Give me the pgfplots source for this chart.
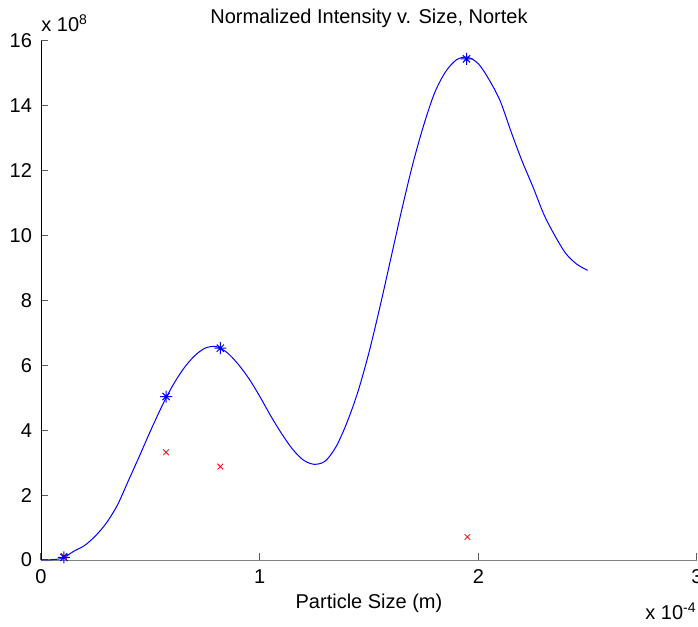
\documentclass[border=0pt]{standalone}
\usepackage{fontspec}
\setmainfont{Liberation Sans}
\usepackage{pgfplots}
\pgfplotsset{compat=1.18}
\pgfdeclareplotmark{matstar}{%
  \pgfpathmoveto{\pgfqpoint{-\pgfplotmarksize}{0pt}}\pgfpathlineto{\pgfqpoint{\pgfplotmarksize}{0pt}}%
  \pgfpathmoveto{\pgfqpoint{0pt}{-\pgfplotmarksize}}\pgfpathlineto{\pgfqpoint{0pt}{\pgfplotmarksize}}%
  \pgfpathmoveto{\pgfqpoint{-0.6\pgfplotmarksize}{-0.6\pgfplotmarksize}}\pgfpathlineto{\pgfqpoint{0.6\pgfplotmarksize}{0.6\pgfplotmarksize}}%
  \pgfpathmoveto{\pgfqpoint{-0.6\pgfplotmarksize}{0.6\pgfplotmarksize}}\pgfpathlineto{\pgfqpoint{0.6\pgfplotmarksize}{-0.6\pgfplotmarksize}}%
  \pgfusepathqstroke}
\begin{document}
\begin{tikzpicture}
\useasboundingbox (-20.5pt,-33.5pt) rectangle (328.5pt,280pt);
\begin{axis}[
  scale only axis, width=328pt, height=259.5pt,
  at={(0,0)}, anchor=south west,
  xmin=0, xmax=3, ymin=0, ymax=16,
  xtick={0,1,2,3}, ytick={0,2,...,16},
  axis x line*=bottom, axis y line*=left,
  x axis line style={gray},
  y axis line style={black},
  tick align=inside, major tick length=3.5pt,
  every tick/.style={gray!70!black, line width=0.5pt},
  scaled ticks=false,
  /pgf/number format/assume math mode=true,
  tick label style={font=\fontsize{10}{12}\selectfont},
  xticklabel style={anchor=base, yshift=-12pt},
  yticklabel style={anchor=east, xshift=-1pt},
  xlabel={Particle Size (m)},
  xlabel style={at={(0.5,0)}, anchor=base, yshift=-24.5pt, font=\fontsize{10}{12}\selectfont},
  clip=false,
]
\addplot[blue, line width=0.5pt, smooth, no markers] coordinates {
(0,0) (0.05,0.01) (0.10,0.06) (0.15,0.27) (0.20,0.45) (0.25,0.75) (0.30,1.15)
(0.35,1.7) (0.40,2.45) (0.45,3.2) (0.50,3.97) (0.55,4.7) (0.60,5.35) (0.65,5.88)
(0.70,6.28) (0.75,6.53) (0.80,6.58) (0.85,6.4) (0.90,6.05) (0.95,5.6) (1.00,5.05)
(1.05,4.45) (1.10,3.9) (1.15,3.42) (1.20,3.08) (1.25,2.95) (1.30,3.05) (1.35,3.5)
(1.40,4.25) (1.45,5.2) (1.50,6.4) (1.55,7.8) (1.60,9.3) (1.65,10.8) (1.70,12.2)
(1.75,13.4) (1.80,14.4) (1.85,15.05) (1.90,15.42) (1.95,15.5) (2.00,15.3)
(2.05,14.8) (2.10,14.15) (2.15,13.2) (2.20,12.3) (2.25,11.5) (2.30,10.65)
(2.35,10.0) (2.40,9.45) (2.45,9.12) (2.50,8.93)
};
\addplot[red, only marks, mark=x, mark size=2pt, line width=0.4pt] coordinates {
(0.105,0.12) (0.572,3.32) (0.82,2.88) (1.95,0.71)
};
\addplot[blue, only marks, mark=matstar, mark size=3pt, line width=0.5pt] coordinates {
(0.105,0.08) (0.572,5.04) (0.82,6.53) (1.946,15.45)
};
\node[anchor=base, inner sep=0pt, font=\fontsize{10}{12}\selectfont] at ([yshift=8.5pt]rel axis cs:0.5,1) {Normalized Intensity v. Size, Nortek};
\node[anchor=base west, inner sep=0pt, font=\fontsize{10}{12}\selectfont] at ([yshift=4.5pt]rel axis cs:0,1) {x 10\textsuperscript{8}};
\node[anchor=base east, inner sep=0pt, font=\fontsize{10}{12}\selectfont] at ([yshift=-30pt]rel axis cs:1,0) {x 10\textsuperscript{-4}};
\end{axis}
\end{tikzpicture}
\end{document}
